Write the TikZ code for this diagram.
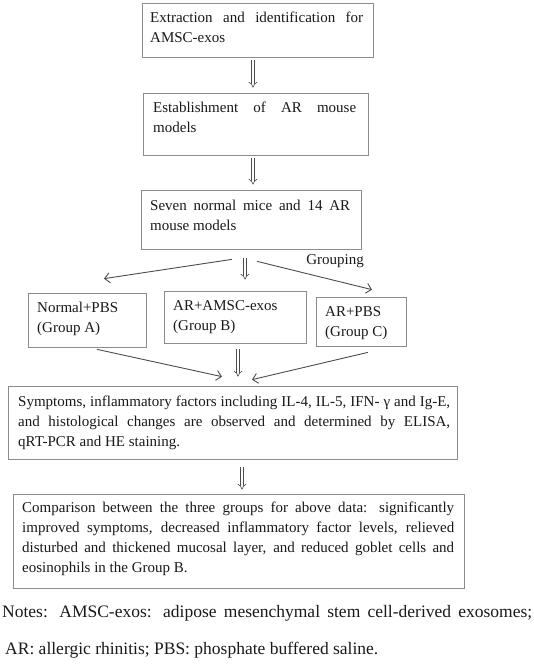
\documentclass[tikz,border=0pt]{standalone}
\usepackage{fontspec}
\setmainfont{Liberation Serif}
\usetikzlibrary{arrows.meta,calc,shadows}
\newcommand{\jl}[2]{\makebox[#1][s]{#2}}
\begin{document}
\begin{tikzpicture}[x=1pt,y=-1pt,
 box/.style={draw=black!45, line width=0.7pt, fill=white, inner sep=0pt,
   drop shadow={shadow xshift=1.4pt, shadow yshift=-1.4pt, fill=black!65, opacity=1}},
 txt/.style={inner sep=0pt, anchor=north west, align=left, text=black!90, font=\fontsize{15}{20}\selectfont},
 arr/.style={draw=black!70, line width=0.9pt, -{Straight Barb[length=5pt,width=10pt]}},
 darr/.style={draw=black!70, line width=0.6pt, double, double distance=2.5pt, -{Implies}},
]
\useasboundingbox (0,0) rectangle (534,667);
% boxes
\node[box, minimum width=231pt, minimum height=54pt] (b1) at (257.5,30) {};
\node[box, minimum width=225pt, minimum height=62pt] (b2) at (255.5,124) {};
\node[box, minimum width=220pt, minimum height=59pt] (b3) at (251,219.5) {};
\node[box, minimum width=118pt, minimum height=54pt] (bA) at (87,320) {};
\node[box, minimum width=142pt, minimum height=52pt] (bB) at (235,317) {};
\node[box, minimum width=90pt, minimum height=49pt] (bC) at (361,321.5) {};
\node[box, minimum width=449pt, minimum height=73pt] (bD) at (232.5,422.5) {};
\node[box, minimum width=451pt, minimum height=94pt] (bE) at (238.5,541) {};
% texts
\node[txt] (t1) at (150,11.5) {\jl{213pt}{Extraction and identification for}\\AMSC-exos};
\node[txt] (t2) at (153,101.5) {\jl{203pt}{Establishment of AR mouse}\\models};
\node[txt] (t3) at (150,199.5) {\jl{200pt}{Seven normal mice and 14 AR}\\mouse models};
\node[txt] (tA) at (37,301.5) {Normal+PBS\\(Group A)};
\node[txt] (tB) at (173,300.5) {AR+AMSC-exos\\(Group B)};
\node[txt] (tC) at (325,306.5) {AR+PBS\\(Group C)};
\node[txt] (tD) at (18,395.5) {\jl{432pt}{Symptoms, inflammatory factors including IL-4, IL-5, IFN- γ and Ig-E,}\\\jl{432pt}{and histological changes are observed and determined by ELISA,}\\qRT-PCR and HE staining.};
\node[txt] (tE) at (22,501.5) {\jl{432pt}{Comparison between the three groups for above data: significantly}\\\jl{432pt}{improved symptoms, decreased inflammatory factor levels, relieved}\\\jl{432pt}{disturbed and thickened mucosal layer, and reduced goblet cells and}\\eosinophils in the Group B.};
\node[text=black!90, font=\fontsize{15}{20}\selectfont, inner sep=0pt] (grp) at (335,261) {Grouping};
\node[txt, anchor=west, font=\fontsize{17.5}{20}\selectfont] (n1) at (2,613) {\jl{530pt}{Notes: AMSC-exos: adipose mesenchymal stem cell-derived exosomes;}};
\node[txt, anchor=west, font=\fontsize{17.5}{20}\selectfont] (n2) at (5,650) {AR: allergic rhinitis; PBS: phosphate buffered saline.};
% connectors
\draw[darr] ($(b1.south)+(-4.5,3)$) -- ($(b2.north)+(-2.5,-5)$);
\draw[darr] ($(b2.south)+(-2.5,3)$) -- ($(b3.north)+(2,-5)$);
\draw[arr] ($(b3.south)+(-19,10)$) -- ($(bA.north)+(17,-14)$);
\draw[darr] ($(b3.south)+(-6,9)$) -- ($(bB.north)+(10,-11)$);
\draw[arr] ($(b3.south)+(6,12)$) -- ($(bC.north)+(11,-7)$);
\draw[arr] ($(bA.south)+(10,2)$) -- ($(bD.north)+(-10.5,-9)$);
\draw[darr] ($(bB.south)+(3,6)$) -- ($(bD.north)+(5.5,-9)$);
\draw[arr] ($(bC.south)+(7,6)$) -- ($(bD.north)+(19.5,-6)$);
\draw[darr] ($(bD.south)+(9.5,8)$) -- ($(bE.north)+(3.5,-4)$);
\end{tikzpicture}
\end{document}
